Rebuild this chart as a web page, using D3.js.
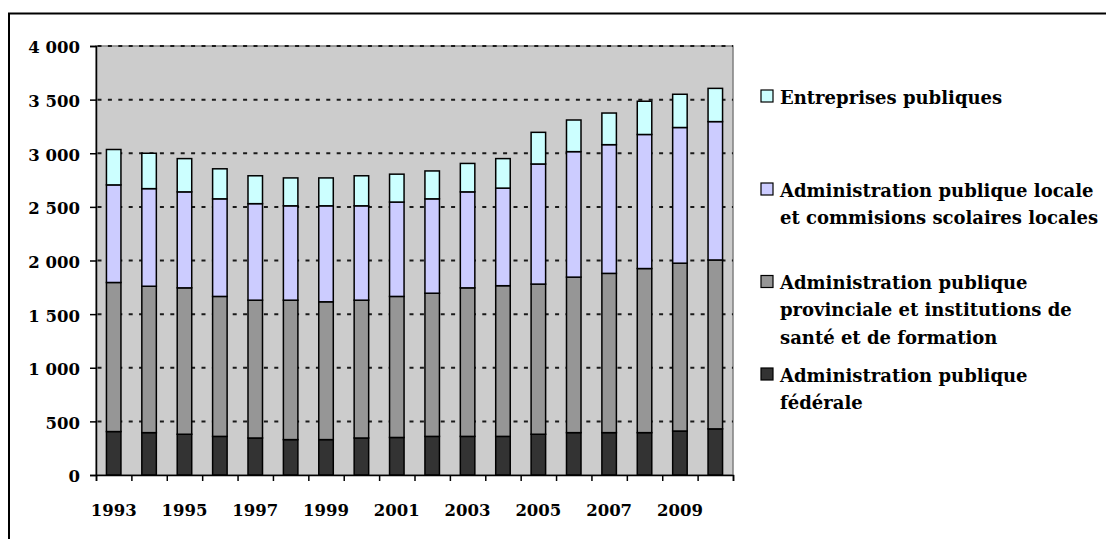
<!DOCTYPE html>
<html lang="fr">
<head>
<meta charset="utf-8">
<script src="https://cdn.jsdelivr.net/npm/d3@7"></script>
<style>
  html, body { margin: 0; padding: 0; background: #ffffff; }
  svg { display: block; }
  text { font-family: "DejaVu Serif", "Liberation Serif", serif; font-weight: bold; fill: #000; }
</style>
</head>
<body>
<svg id="chart" width="1106" height="539"></svg>
<script>
// Effectifs du secteur public par niveau d'administration (milliers)
const years = [1993, 1994, 1995, 1996, 1997, 1998, 1999, 2000, 2001,
               2002, 2003, 2004, 2005, 2006, 2007, 2008, 2009, 2010];
const federal     = [405, 395, 380, 360, 345, 330, 330, 345, 350, 360, 360, 360, 380, 395, 395, 395, 410, 430];
const provincial  = [1390, 1365, 1365, 1305, 1285, 1300, 1285, 1285, 1315, 1335, 1385, 1405, 1400, 1450, 1485, 1530, 1565, 1575];
const local       = [910, 910, 895, 910, 900, 880, 895, 880, 880, 880, 895, 910, 1120, 1170, 1200, 1250, 1265, 1290];
const entreprises = [330, 330, 310, 280, 260, 260, 260, 280, 260, 260, 265, 275, 295, 295, 295, 310, 310, 310];

const yTicks = [0, 500, 1000, 1500, 2000, 2500, 3000, 3500, 4000];
const yearLabels = [1993, 1995, 1997, 1999, 2001, 2003, 2005, 2007, 2009];

const seriesKeys = ["federal", "provincial", "local", "entreprises"];
const seriesColors = ["#333333", "#969696", "#ccccff", "#ccffff"];
// Légende, du haut vers le bas
const legendKeys = ["entreprises", "local", "provincial", "federal"];
const legendLines = [
  ["Entreprises publiques"],
  ["Administration publique locale", "et commisions scolaires locales"],
  ["Administration publique", "provinciale et institutions de", "santé et de formation"],
  ["Administration publique", "fédérale"]
];

const rows = years.map((y, i) => ({
  year: y,
  federal: federal[i],
  provincial: provincial[i],
  local: local[i],
  entreprises: entreprises[i]
}));

const svg = d3.select("#chart");
const plot = { left: 96, right: 733, top: 46, bottom: 475 };

const x = d3.scaleBand()
  .domain(years)
  .range([plot.left, plot.right])
  .paddingInner(0.59)
  .paddingOuter(0.295);

const xEdge = d3.scaleLinear().domain([0, years.length]).range([plot.left, plot.right]);

const y = d3.scaleLinear().domain([0, 4000]).range([plot.bottom, plot.top]);

const color = d3.scaleOrdinal().domain(seriesKeys).range(seriesColors);

const fr = d3.formatLocale({ decimal: ",", thousands: " ", grouping: [3], currency: ["", " €"] });
const fmt = fr.format(",");

// Cadre extérieur
svg.append("rect")
  .attr("x", 9).attr("y", 13.5)
  .attr("width", 1120).attr("height", 560)
  .attr("fill", "none").attr("stroke", "#000").attr("stroke-width", 2);

// Zone de tracé
svg.append("rect")
  .attr("x", plot.left).attr("y", plot.top)
  .attr("width", plot.right - plot.left).attr("height", plot.bottom - plot.top)
  .attr("fill", "#cccccc").attr("stroke", "#808080").attr("stroke-width", 1.5);

// Quadrillage pointillé
svg.append("g")
  .selectAll("line")
  .data(yTicks.filter(d => d > 0))
  .join("line")
  .attr("x1", plot.left).attr("x2", plot.right)
  .attr("y1", d => y(d)).attr("y2", d => y(d))
  .attr("stroke", "#1a1a1a").attr("stroke-width", 2)
  .attr("stroke-dasharray", "4,6.4")
  .attr("stroke-dashoffset", -1.5);

// Barres empilées
const stacked = d3.stack().keys(seriesKeys)(rows);
svg.append("g")
  .selectAll("g")
  .data(stacked)
  .join("g")
  .attr("fill", d => color(d.key))
  .selectAll("rect")
  .data(d => d)
  .join("rect")
  .attr("x", d => x(d.data.year))
  .attr("width", x.bandwidth())
  .attr("y", d => y(d[1]))
  .attr("height", d => y(d[0]) - y(d[1]))
  .attr("stroke", "#000").attr("stroke-width", 1.5);

// Axe vertical
const yAxis = svg.append("g")
  .attr("transform", `translate(${plot.left},0)`)
  .call(d3.axisLeft(y).tickValues(yTicks).tickFormat(fmt).tickSize(6).tickPadding(10));
yAxis.select(".domain").attr("stroke", "#000").attr("stroke-width", 1.5);
yAxis.selectAll(".tick line").attr("stroke", "#000").attr("stroke-width", 1.5);
yAxis.selectAll(".tick text")
  .attr("font-size", 16.5).attr("font-family", null)
  .attr("dy", "0.42em");

// Axe horizontal : graduations entre les catégories
const xTickAxis = svg.append("g")
  .attr("transform", `translate(0,${plot.bottom})`)
  .call(d3.axisBottom(xEdge).tickValues(d3.range(0, years.length + 1)).tickFormat("").tickSize(6));
xTickAxis.select(".domain").attr("stroke", "#000").attr("stroke-width", 1.5);
xTickAxis.selectAll(".tick line").attr("stroke", "#000").attr("stroke-width", 1.5);

// Étiquettes des années
const xLabelAxis = svg.append("g")
  .attr("transform", `translate(0,${plot.bottom})`)
  .call(d3.axisBottom(x).tickValues(yearLabels).tickFormat(d3.format("d")).tickSize(0).tickPadding(29));
xLabelAxis.select(".domain").remove();
xLabelAxis.selectAll(".tick text").attr("font-size", 16.5).attr("font-family", null);

// Légende
const legendTop = [90, 183, 275.5, 368];
const legend = svg.append("g");
legendKeys.forEach((key, i) => {
  const g = legend.append("g");
  g.append("rect")
    .attr("x", 761).attr("y", legendTop[i])
    .attr("width", 12).attr("height", 12)
    .attr("fill", color(key)).attr("stroke", "#000").attr("stroke-width", 1.2);
  const t = g.append("text").attr("font-size", 18);
  legendLines[i].forEach((line, j) => {
    t.append("tspan")
      .attr("x", 780)
      .attr("y", legendTop[i] + 13.5 + j * 27.3)
      .text(line);
  });
});
</script>
</body>
</html>
